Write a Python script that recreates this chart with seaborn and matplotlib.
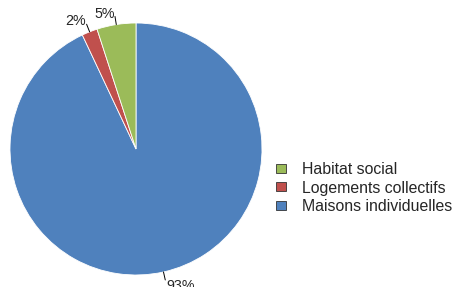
import numpy as np
import matplotlib
matplotlib.use('Agg')
import matplotlib.pyplot as plt
from matplotlib.patches import Patch
import seaborn as sns

categories = ['Maisons individuelles', 'Logements collectifs', 'Habitat social']
values = [93, 2, 5]
pct_labels = ['93%', '2%', '5%']
colors = ['#4F81BD', '#C0504D', '#9BBB59']

sns.set_theme(style='white')
plt.rcParams['font.family'] = ['Liberation Sans', 'DejaVu Sans']

fig = plt.figure(figsize=(4.54, 2.87), dpi=100)
ax = fig.add_axes([10/454, 12/287, 252/454, 252/287])
wedges, _ = ax.pie(values, colors=colors, startangle=90, counterclock=False,
                   radius=1, wedgeprops={'edgecolor': 'white', 'linewidth': 0.6})
ax.set_xlim(-1, 1)
ax.set_ylim(-1, 1)
ax.set_aspect('equal')

# etiquettes avec petits traits
for w, lab in zip(wedges, pct_labels):
    ang = np.deg2rad((w.theta1 + w.theta2) / 2)
    x0, y0 = np.cos(ang), np.sin(ang)
    x1, y1 = 1.065 * x0, 1.065 * y0
    ax.plot([x0, x1], [y0, y1], color='black', lw=0.7, clip_on=False)
    if y0 < 0:
        ax.text(x1 + 0.005, y1 + 0.005, lab, ha='left', va='top', fontsize=10.3, clip_on=False)
    else:
        ax.text(x1 - 0.002, y1 - 0.01, lab, ha='right', va='baseline', fontsize=10.3, clip_on=False)

handles = [Patch(facecolor=colors[i], edgecolor='#333333', linewidth=0.6) for i in [2, 1, 0]]
labels = [categories[2], categories[1], categories[0]]
fig.legend(handles, labels, loc='center left', bbox_to_anchor=(276/454, 1 - 188/287),
           frameon=False, fontsize=11.4, handlelength=0.65, handleheight=0.5,
           handletextpad=1.0, labelspacing=0.22, borderaxespad=0, borderpad=0)

fig.savefig('out.png', dpi=100)
